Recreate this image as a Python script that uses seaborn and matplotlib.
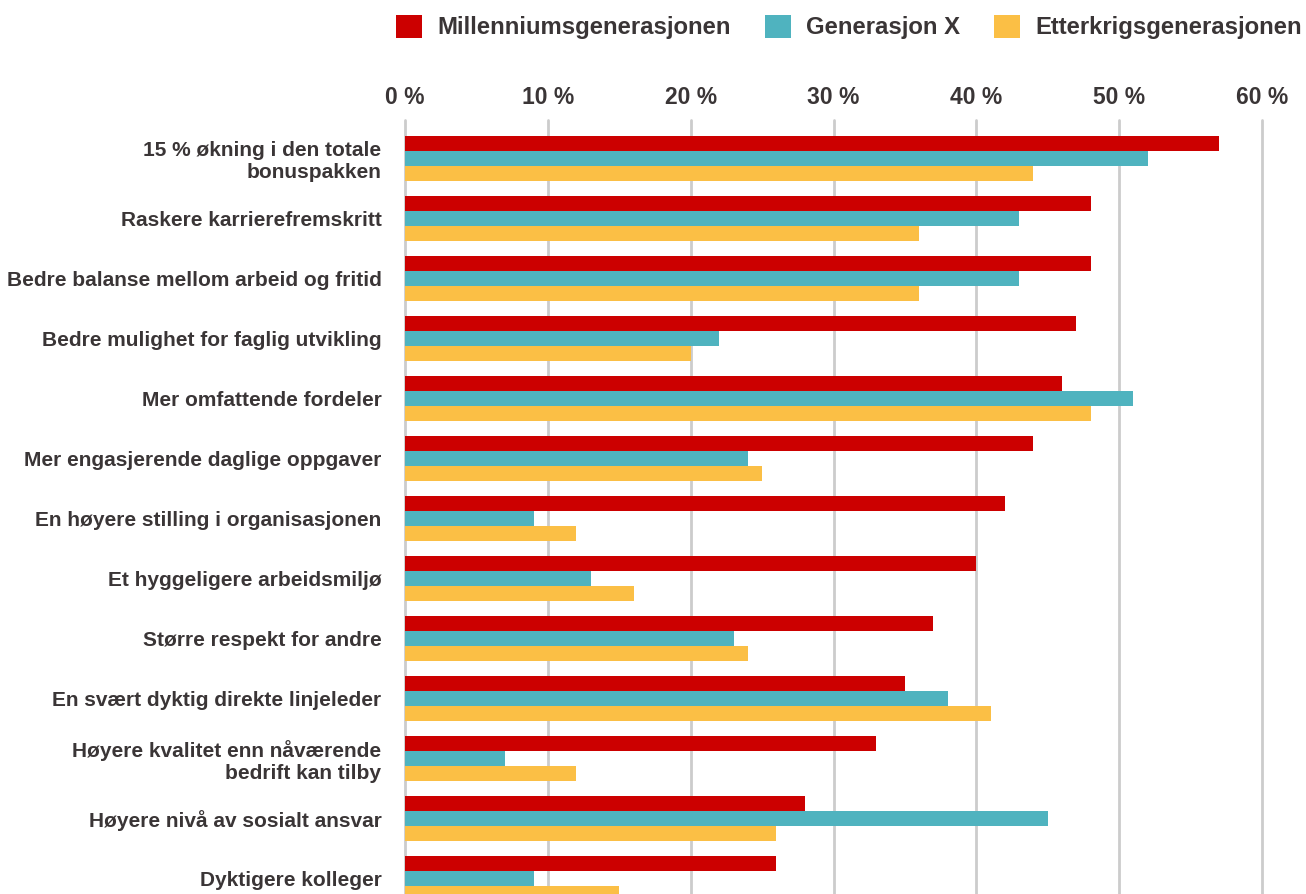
import matplotlib
matplotlib.use("Agg")
import matplotlib.pyplot as plt
from matplotlib.patches import Patch
import pandas as pd
import seaborn as sns

categories = [
    "15 % økning i den totale\nbonuspakken",
    "Raskere karrierefremskritt",
    "Bedre balanse mellom arbeid og fritid",
    "Bedre mulighet for faglig utvikling",
    "Mer omfattende fordeler",
    "Mer engasjerende daglige oppgaver",
    "En høyere stilling i organisasjonen",
    "Et hyggeligere arbeidsmiljø",
    "Større respekt for andre",
    "En svært dyktig direkte linjeleder",
    "Høyere kvalitet enn nåværende\nbedrift kan tilby",
    "Høyere nivå av sosialt ansvar",
    "Dyktigere kolleger",
]
series_names = ["Millenniumsgenerasjonen", "Generasjon X", "Etterkrigsgenerasjonen"]
millennials = [57, 48, 48, 47, 46, 44, 42, 40, 37, 35, 33, 28, 26]
gen_x = [52, 43, 43, 22, 51, 24, 9, 13, 23, 38, 7, 45, 9]
boomers = [44, 36, 36, 20, 48, 25, 12, 16, 24, 41, 12, 26, 15]
x_ticks = [0, 10, 20, 30, 40, 50, 60]
x_tick_labels = ["0 %", "10 %", "20 %", "30 %", "40 %", "50 %", "60 %"]

colors = ["#CC0000", "#4FB3BF", "#FBBF45"]
text_color = "#3a3536"

rows = []
for name, vals in zip(series_names, [millennials, gen_x, boomers]):
    for cat, v in zip(categories, vals):
        rows.append({"kategori": cat, "gruppe": name, "andel": v})
df = pd.DataFrame(rows)

sns.set_style("white")
plt.rcParams["font.family"] = ["Liberation Sans", "DejaVu Sans"]

fig = plt.figure(figsize=(13.06, 8.94), dpi=100)
ax = fig.add_axes([405 / 1306, 0.0, (1262 - 405) / 1306, 1 - 120 / 894])

sns.barplot(
    data=df, y="kategori", x="andel", hue="gruppe",
    order=categories, hue_order=series_names, palette=colors,
    orient="h", width=0.74, saturation=1, errorbar=None,
    linewidth=0, ax=ax, legend=False,
)

ax.set_xlim(0, 60)
ax.set_ylim(12.26, -0.64)
ax.set_xticks(x_ticks)
ax.set_xticklabels(x_tick_labels)
ax.xaxis.tick_top()
ax.set_xlabel("")
ax.set_ylabel("")
ax.grid(axis="x", color="#cccccc", linewidth=2)
ax.set_axisbelow(True)
for gl in ax.get_xgridlines():
    gl.set_clip_on(False)
for s in ax.spines.values():
    s.set_visible(False)
ax.tick_params(axis="x", length=0, pad=8, labelsize=16.5, labelcolor=text_color)
ax.tick_params(axis="y", length=0, pad=17, labelsize=15, labelcolor=text_color)
for lbl in ax.get_xticklabels() + ax.get_yticklabels():
    lbl.set_fontweight("bold")
for lbl in ax.get_yticklabels():
    lbl.set_horizontalalignment("right")
    lbl.set_multialignment("right")
    lbl.set_linespacing(1.18)

handles = [Patch(facecolor=c, edgecolor="none") for c in colors]
fig.legend(
    handles, series_names, loc="center left", bbox_to_anchor=(396 / 1306, 1 - 27 / 894),
    ncol=3, frameon=False, borderpad=0, borderaxespad=0,
    handlelength=1.1, handleheight=1.1,
    handletextpad=0.64, columnspacing=1.4,
    prop={"weight": "bold", "size": 17.2}, labelcolor=text_color,
)

fig.savefig("out.png", dpi=100)
